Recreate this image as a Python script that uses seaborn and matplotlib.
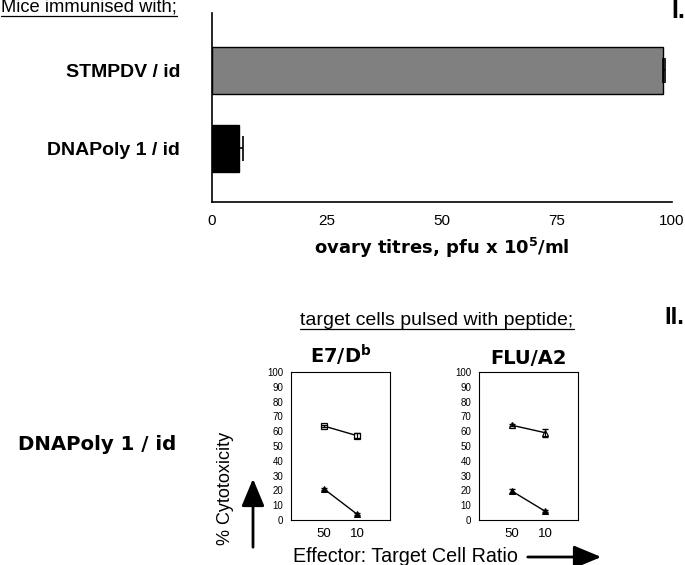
import numpy as np
import pandas as pd
import matplotlib
matplotlib.use("Agg")
import matplotlib.pyplot as plt
from matplotlib.lines import Line2D
from matplotlib.patches import FancyArrowPatch
import seaborn as sns

# panel I: ovary titres
groups = ["STMPDV / id", "DNAPoly 1 / id"]
titres = [98.0, 5.8]
titre_err = [0.5, 0.9]
bar_colors = ["#808080", "#000000"]

# panel II: cytotoxicity
ratios = ["50", "10"]
e7_open = [63.5, 57.0]
e7_open_err = [0.8, 1.5]
e7_filled = [21.0, 4.0]
e7_filled_err = [0.5, 0.5]
flu_open = [64.0, 59.0]
flu_open_err = [0.8, 2.8]
flu_filled = [19.5, 6.0]
flu_filled_err = [1.5, 0.5]

sns.set_style("white")
plt.rcParams["font.family"] = ["Liberation Sans", "DejaVu Sans"]
plt.rcParams["mathtext.default"] = "regular"
for k in ["text.color", "axes.labelcolor", "xtick.color", "ytick.color"]:
    plt.rcParams[k] = "black"

fig = plt.figure(figsize=(6.85, 5.65), dpi=100)

# ---- panel I ----
ax1 = fig.add_axes([0.3095, 0.6425, 0.6715, 0.3345])
df1 = pd.DataFrame({"group": groups, "titre": titres})
sns.barplot(data=df1, x="titre", y="group", hue="group", palette=bar_colors,
            orient="h", width=0.6, edgecolor="black", linewidth=1.0,
            legend=False, ax=ax1)
# only the upper half of the error bar shows in the original
ax1.errorbar(titres, range(len(groups)), xerr=[[0] * len(groups), titre_err],
             fmt="none", ecolor="black", elinewidth=1.2, capsize=9, capthick=1.2)
ax1.set_xlim(0, 100)
ax1.set_ylim(1.686, -0.737)
ax1.set_xticks([0, 25, 50, 75, 100])
ax1.tick_params(axis="x", direction="out", length=6, width=1.2, labelsize=11, pad=3)
ax1.tick_params(axis="y", length=0, pad=23)
for lab in ax1.get_yticklabels():
    lab.set_fontweight("bold")
    lab.set_fontsize(14)
ax1.set_ylabel("")
ax1.set_xlabel(r"ovary titres, pfu x 10$^{5}$/ml", fontweight="bold",
               fontsize=13, family="DejaVu Sans", labelpad=5)
sns.despine(ax=ax1)
for s in ["left", "bottom"]:
    ax1.spines[s].set_linewidth(1.2)
    ax1.spines[s].set_color("black")


# ---- panel II ----
def cyto_panel(rect, title, open_vals, open_err, open_marker, filled_vals, filled_err):
    ax = fig.add_axes(rect)
    pos = np.arange(1, len(ratios) + 1)
    sns.lineplot(x=pos, y=open_vals, color="black", marker=open_marker,
                 markersize=5, markerfacecolor="white", markeredgecolor="black",
                 markeredgewidth=0.9, linewidth=1, ax=ax)
    ax.errorbar(pos, open_vals, yerr=open_err, fmt="none", ecolor="black",
                elinewidth=0.8, capsize=2.5)
    sns.lineplot(x=pos, y=filled_vals, color="black", marker="^",
                 markersize=5, markerfacecolor="black", markeredgecolor="black",
                 linewidth=1, ax=ax)
    ax.errorbar(pos, filled_vals, yerr=filled_err, fmt="none", ecolor="black",
                elinewidth=0.8, capsize=2.5)
    ax.set_xlim(0, len(ratios) + 1)
    ax.set_ylim(0, 100)
    ax.set_xticks(np.arange(0, len(ratios) + 2))
    ax.set_xticklabels([""] + ratios + [""])
    ax.set_yticks(range(0, 101, 10))
    ax.tick_params(direction="out", length=4, width=0.8, labelsize=7, pad=1.5)
    ax.tick_params(axis="x", labelsize=9.5)
    for s in ax.spines.values():
        s.set_linewidth(0.8)
        s.set_color("black")
    ax.set_title(title, fontweight="bold", fontsize=14, family="DejaVu Sans", pad=6)
    return ax


ax2 = cyto_panel([0.4248, 0.0796, 0.1445, 0.262], r"E7/D$^\mathbf{b}$",
                 e7_open, e7_open_err, "s", e7_filled, e7_filled_err)
ax3 = cyto_panel([0.6993, 0.0796, 0.1445, 0.262], "FLU/A2",
                 flu_open, flu_open_err, "^", flu_filled, flu_filled_err)


# ---- labels and annotations ----
def px(x, y):
    return (x / 685, 1 - y / 565)


t_mice = fig.text(*px(1, 12), "Mice immunised with;", fontsize=13.2,
                  va="baseline", ha="left")
t_target = fig.text(*px(437, 325), "target cells pulsed with peptide;", fontsize=14,
                    va="baseline", ha="center")
fig.text(*px(678, 11), "I.", fontsize=18, fontweight="bold", ha="center", va="center")
fig.text(*px(674, 317), "II.", fontsize=17, fontweight="bold", ha="center", va="center")
fig.text(*px(97, 445), "DNAPoly 1 / id", fontsize=14.2, fontweight="bold",
         family="DejaVu Sans", ha="center", va="center")
fig.text(*px(226, 488), "% Cytotoxicity", fontsize=13, rotation=90,
         ha="center", va="center")
fig.text(*px(293, 557), "Effector: Target Cell Ratio", fontsize=14.2,
         ha="left", va="center")

arrow_style = dict(arrowstyle="-|>,head_length=1.2,head_width=0.5", color="black",
                   lw=2, mutation_scale=14)
fig.add_artist(FancyArrowPatch(px(253, 550), px(253, 476),
                               transform=fig.transFigure, **arrow_style))
fig.add_artist(FancyArrowPatch(px(525, 557), px(604, 557),
                               transform=fig.transFigure, **arrow_style))

# underline the two headings
fig.canvas.draw()
renderer = fig.canvas.get_renderer()
for t in [t_mice, t_target]:
    bb = t.get_window_extent(renderer).transformed(fig.transFigure.inverted())
    y = bb.y0 + 0.0005
    fig.add_artist(Line2D([bb.x0, bb.x1], [y, y], transform=fig.transFigure,
                          color="black", lw=0.9))

fig.savefig("out.png", dpi=100)
